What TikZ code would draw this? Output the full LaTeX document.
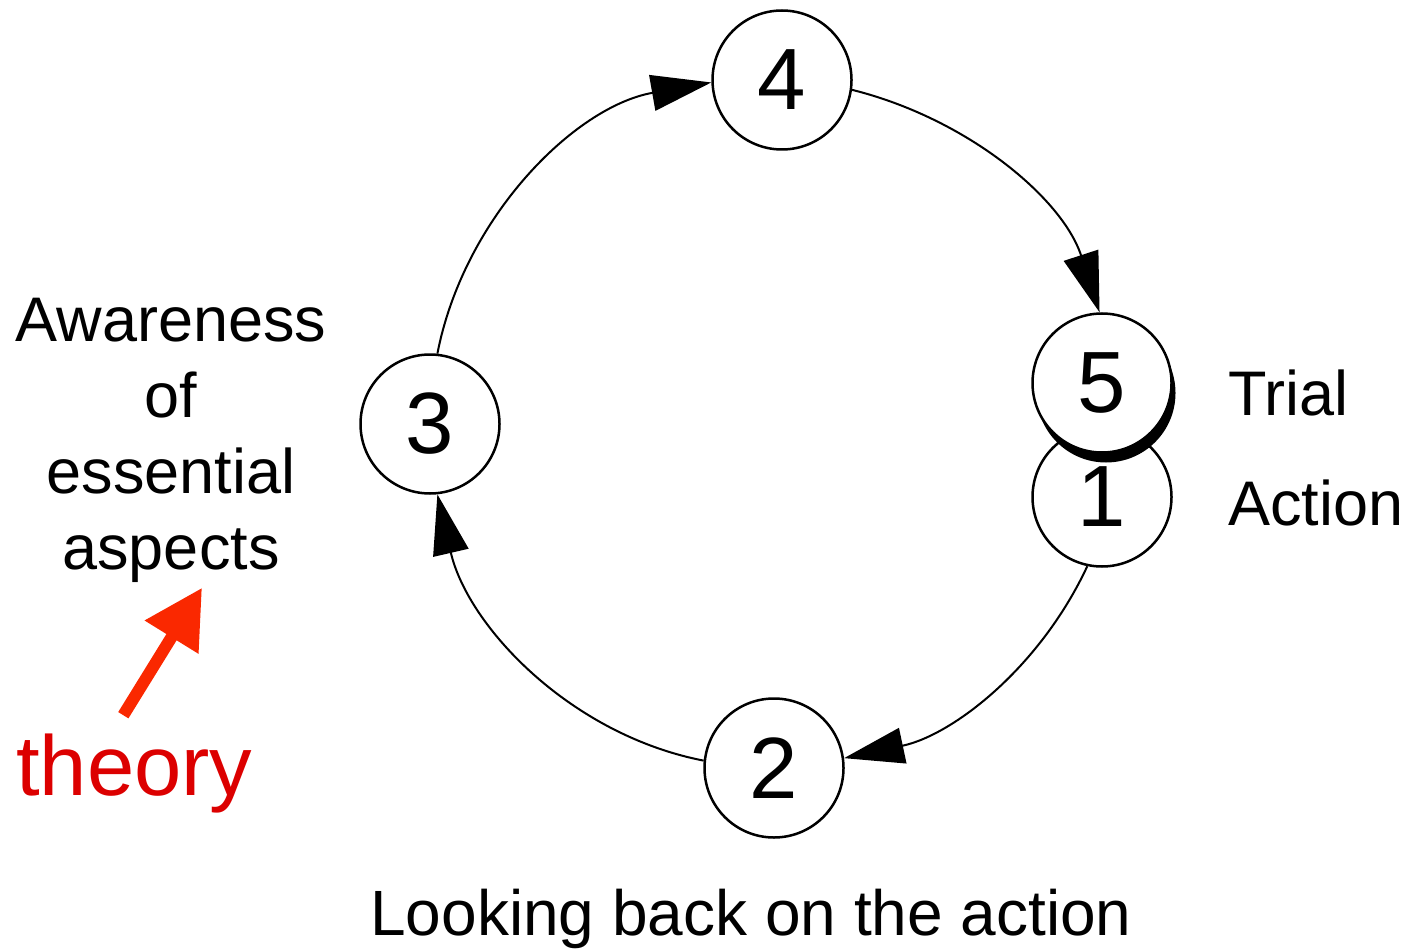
\documentclass[tikz,border=0pt]{standalone}
\usepackage{fontspec}
\setmainfont{Liberation Sans}
\usetikzlibrary{arrows.meta,shadows}
\definecolor{theoryred}{RGB}{220,0,0}
\definecolor{arrowred}{RGB}{250,40,0}
\tikzset{
    stage/.style = {
        circle,
        draw,
        line width = 2.5pt,
        fill = white,
        minimum size = 139pt,
        inner sep = 0pt,
        font = \fontsize{87}{87}\selectfont,
        },
    cycle edge/.style = {
        line width = 2pt,
        looseness = 0.92,
        -{Triangle[length=60pt, width=36pt]},
        },
    caption/.style = {
        inner sep = 0pt,
        font = \fontsize{63}{76}\selectfont,
        },
    theory label/.style = {
        inner sep = 0pt,
        text = theoryred,
        font = \fontsize{85}{85}\selectfont,
        },
    theory arrow/.style = {
        draw = arrowred,
        line width = 12pt,
        -{Triangle[length=58pt, width=60pt]},
        },
}

\begin{document}
\begin{tikzpicture}[x=1pt, y=-1pt]
            \useasboundingbox (0,0) rectangle (1407,949);

            % the cycle
            \node [stage] (4) at (782,80) {4};
            \node [stage] (3) at (430,424) {3};
            \node [stage] (2) at (774,768) {2};
            \node [stage] (1) at (1102,497) {1};
            \node [stage, drop shadow={shadow xshift=4pt, shadow yshift=-10pt, fill=black, opacity=1}] (5) at (1102,383) {5};

            \draw[cycle edge] (4.-8) to[out=-14, in=108] (5.92);
            \draw[cycle edge] (1.-102) to[out=-115, in=12] (2.8);
            \draw[cycle edge] (2.174) to[out=169, in=-77] (3.-84);
            \draw[cycle edge] (3.84) to[out=79, in=-170] (4.182);

            % labels
            \node [caption, anchor=base west] (trial) at (1228,415) {Trial};
            \node [caption, anchor=base west] (action) at (1228,525) {Action};
            \node [caption, anchor=base, font=\fontsize{64}{76}\selectfont] (looking) at (751,935) {Looking back on the action};
            \node [caption, anchor=north, align=center] (aware) at (171,298) {Awareness\\of\\essential\\aspects};

            \node [theory label, anchor=base west] (theory) at (16,795) {theory};
            \draw[theory arrow] ([xshift=-11pt, yshift=18pt]theory.north) -- ([xshift=31pt, yshift=-5pt]aware.south);
\end{tikzpicture}
\end{document}
